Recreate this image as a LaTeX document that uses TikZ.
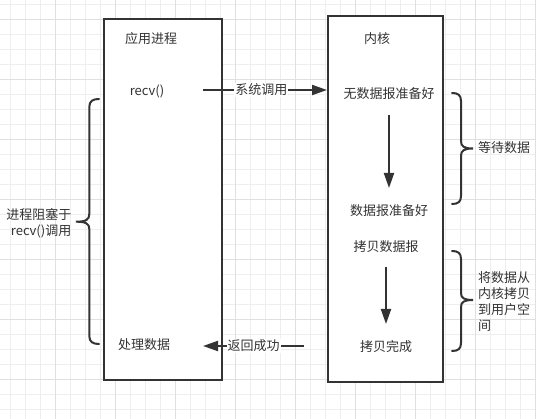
\documentclass[tikz,border=0pt]{standalone}
\usepackage{fontspec}
\setmainfont{Noto Sans CJK SC}
\usetikzlibrary{arrows.meta}
\definecolor{ink}{HTML}{333333}
\definecolor{gridminor}{HTML}{EEEEEE}
\definecolor{gridmajor}{HTML}{E0E0E0}
\tikzset{
  lbl/.style={text=ink, font=\fontsize{13}{16}\selectfont, inner sep=1pt},
  panel/.style={draw=ink, line width=2pt, fill=white, inner sep=0pt},
  arr/.style={draw=ink, line width=2pt, -{Triangle[length=15pt,width=10pt]}},
  bracket/.style={draw=ink, line width=2pt, line cap=round},
}
\begin{document}
\begin{tikzpicture}[x=1pt,y=-1pt]
\useasboundingbox (0,0) rectangle (536,419);
\fill[white] (0,0) rectangle (536,419);
% grid
\foreach \i in {0,...,35} {\draw[gridminor, line width=1pt] (10.7+15*\i,0) -- (10.7+15*\i,419);}
\foreach \i in {0,...,27} {\draw[gridminor, line width=1pt] (0,5+15*\i) -- (536,5+15*\i);}
\foreach \i in {0,...,8} {\draw[gridmajor, line width=1pt] (55.7+60*\i,0) -- (55.7+60*\i,419);}
\foreach \i in {0,...,6} {\draw[gridmajor, line width=1pt] (0,20+60*\i) -- (536,20+60*\i);}
% boxes
\node[panel, minimum width=118pt, minimum height=361pt] (app) at (163,199.5) {};
\node[panel, minimum width=115pt, minimum height=366pt] (kernel) at (385.5,199) {};
% texts
\node[lbl] (apptitle) at (151,39) {应用进程};
\node[lbl] (recv) at (147,91) {recv()};
\node[lbl] (proc) at (144,345) {处理数据};
\node[lbl] (ktitle) at (377,39) {内核};
\node[lbl] (nodata) at (389,94) {无数据报准备好};
\node[lbl] (ready) at (389,211) {数据报准备好};
\node[lbl] (copy) at (386,247) {拷贝数据报};
\node[lbl] (done) at (386,347) {拷贝完成};
% connectors
\coordinate (s1) at (203,90);
\draw[arr] (s1) -- node[lbl, fill=white, pos=0.47] (syscall) {系统调用} (kernel.west |- s1);
\coordinate (s2) at (304,346);
\coordinate (e2) at (203,346);
\draw[arr] (s2) -- node[lbl, fill=white] (ret) {返回成功} (e2);
\draw[arr, shorten <=21pt, shorten >=23pt] (nodata.center) -- (ready.center);
\draw[arr, shorten <=20pt, shorten >=23pt] (copy.center) -- (done.center);
% braces
\draw[bracket] (99,99) .. controls (93,99) and (89.3,101) .. (89.3,107) -- (89.3,214) .. controls (89.3,219.7) and (86,221.7) .. (76,221.7) .. controls (86,221.7) and (89.3,223.7) .. (89.3,229) -- (89.3,336) .. controls (89.3,342) and (93,344) .. (99,344);
\draw[bracket] (452,93) .. controls (458,93) and (461,95) .. (461,101) -- (461,141) .. controls (461,146.5) and (464,148.5) .. (473,148.5) .. controls (464,148.5) and (461,150.5) .. (461,156) -- (461,196) .. controls (461,202) and (458,204) .. (452,204);
\draw[bracket] (452,251) .. controls (458,251) and (461,253) .. (461,259) -- (461,293) .. controls (461,298) and (464,300) .. (473,300) .. controls (464,300) and (461,302) .. (461,307) -- (461,343) .. controls (461,349) and (458,351) .. (452,351);
% brace labels
\node[lbl, anchor=west] (wait) at (477,148) {等待数据};
\node[lbl, anchor=west, align=left] (copylbl) at (477,302) {将数据从\\内核拷贝\\到用户空\\间};
\node[lbl, anchor=east, align=right] (block) at (72.5,223) {进程阻塞于\\recv()调用};
\end{tikzpicture}
\end{document}
